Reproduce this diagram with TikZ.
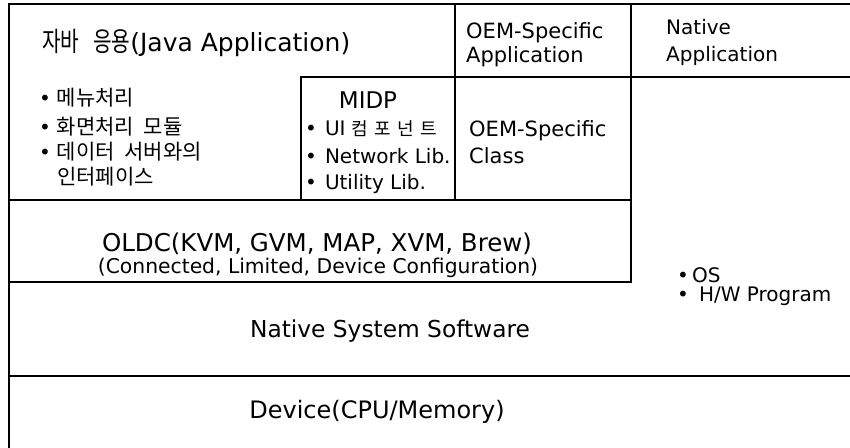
\documentclass[tikz,border=0pt]{standalone}
\usepackage{fontspec}
\setmainfont{DejaVu Sans}
\newfontfamily\krfont{Noto Sans CJK KR}[WordSpace=2]
\newfontfamily\krtitle{Noto Sans CJK KR}[WordSpace=3, FakeStretch=0.75]
\newfontfamily\krwide{Noto Sans CJK KR}[LetterSpace=35]
\newcommand{\px}[1]{\fontsize{#1}{#1}\selectfont}
\newcommand{\dotitem}{•\hspace{6pt}}

\tikzset{
  wall/.style={line width=1.8pt, line cap=rect},
  txt/.style={inner sep=0pt, anchor=base west},
  mid/.style={inner sep=0pt, anchor=base},
}

\begin{document}
\begin{tikzpicture}[x=1pt,y=-1pt]
\useasboundingbox (0,0) rectangle (850,447);

% layer outlines
\draw[wall] (850,4) -- (9,4) -- (9,447);
\draw[wall] (455,4) -- (455,200);
\draw[wall] (631,4) -- (631,282);
\draw[wall] (301,200) -- (301,77) -- (850,77);
\draw[wall] (9,200) -- (631,200);
\draw[wall] (9,282) -- (631,282);
\draw[wall] (9,376) -- (850,376);

% Java application
\node[txt, font=\px{25}] (java) at (42,51) {{\krtitle\px{27}자바 응용}(Java Application)};
\node[txt, font=\px{20}] (menu) at (39,105) {\dotitem{\krfont\px{21}메뉴처리}};
\node[txt, font=\px{20}] (screen) at (39,134) {\dotitem{\krfont\px{21}화면처리 모듈}};
\node[txt, font=\px{20}] (data) at (39,159) {\dotitem{\krfont\px{21}데이터 서버와의}};
\node[txt, font=\px{21}] (iface) at (57,184) {\krfont 인터페이스};

% MIDP
\node[mid, font=\px{23}] (midp) at (368,108) {MIDP};
\node[txt, font=\px{20}] (ui) at (305,135) {•\hspace{8pt}UI {\krwide\px{18}컴포넌트}};
\node[txt, font=\px{20}] (netlib) at (305,163) {•\hspace{8pt}Network Lib.};
\node[txt, font=\px{20}] (utillib) at (305,189) {•\hspace{8pt}Utility Lib.};

% OEM specific
\node[txt, font=\px{21}] (oemapp) at (466,38) {OEM-Specific};
\node[txt, font=\px{21}] (oemapp2) at (466,62) {Application};
\node[txt, font=\px{21}] (oemcls) at (469,136) {OEM-Specific};
\node[txt, font=\px{21}] (oemcls2) at (469,163) {Class};

% native application
\node[txt, font=\px{20}] (natapp) at (666,34) {Native};
\node[txt, font=\px{20}] (natapp2) at (666,61) {Application};
\node[txt, font=\px{20}] (os) at (677,282) {•\hspace{3pt}OS};
\node[txt, font=\px{20}] (hw) at (677,301) {•\hspace{10pt}H/W Program};

% OLDC
\node[mid, font=\px{24.5}] (oldc) at (317,251) {OLDC(KVM, GVM, MAP, XVM, Brew)};
\node[mid, font=\px{20.3}] (cldc) at (318,273) {(Connected, Limited, Device Configuration)};

% native system software and device
\node[mid, font=\px{23.3}] (nss) at (390,337) {Native System Software};
\node[mid, font=\px{24}] (dev) at (377,418) {Device(CPU/Memory)};
\end{tikzpicture}
\end{document}
